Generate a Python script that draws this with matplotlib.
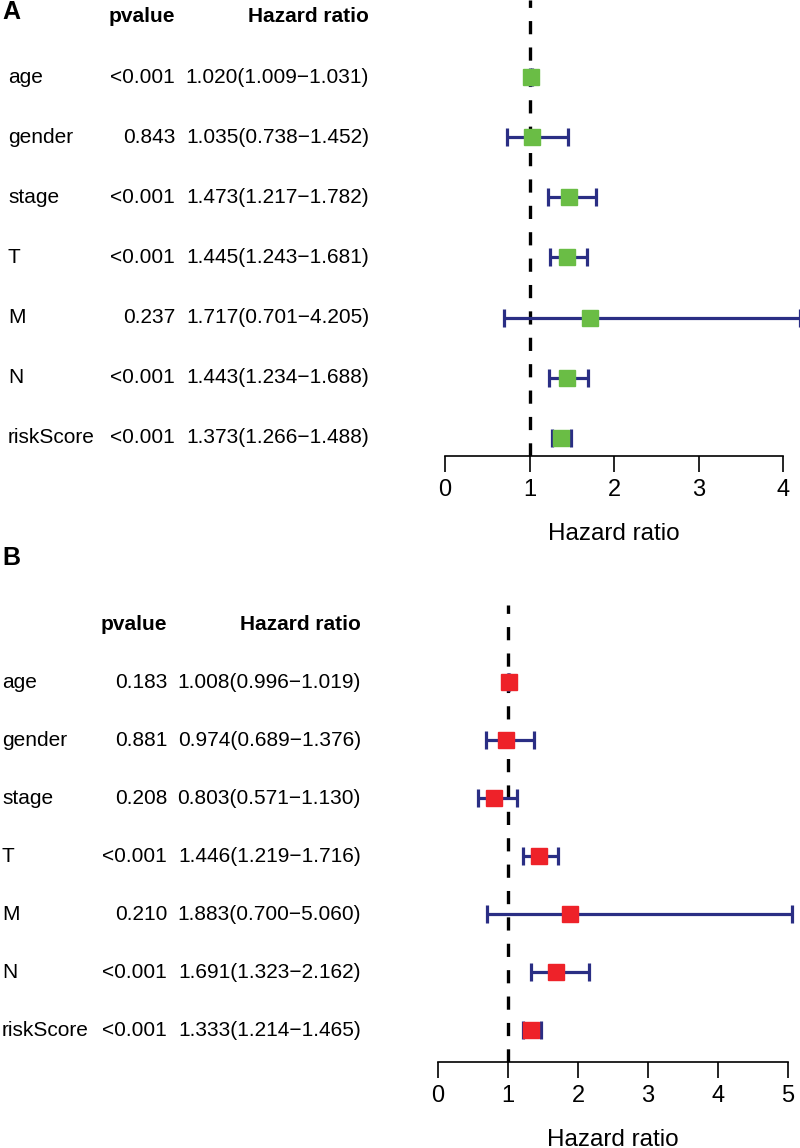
import matplotlib
matplotlib.use("Agg")
import matplotlib.pyplot as plt
import matplotlib.transforms as mtransforms
import numpy as np

plt.rcParams['font.family'] = ['Liberation Sans', 'DejaVu Sans']
plt.rcParams['lines.scale_dashes'] = False

# data
labels = ['age', 'gender', 'stage', 'T', 'M', 'N', 'riskScore']

pval_a = ['<0.001', '0.843', '<0.001', '<0.001', '0.237', '<0.001', '<0.001']
hr_a = [1.020, 1.035, 1.473, 1.445, 1.717, 1.443, 1.373]
low_a = [1.009, 0.738, 1.217, 1.243, 0.701, 1.234, 1.266]
high_a = [1.031, 1.452, 1.782, 1.681, 4.205, 1.688, 1.488]

pval_b = ['0.183', '0.881', '0.208', '<0.001', '0.210', '<0.001', '<0.001']
hr_b = [1.008, 0.974, 0.803, 1.446, 1.883, 1.691, 1.333]
low_b = [0.996, 0.689, 0.571, 1.219, 0.700, 1.323, 1.214]
high_b = [1.019, 1.376, 1.130, 1.716, 5.060, 2.162, 1.465]

ticks_a = [0, 1, 2, 3, 4]
ticks_b = [0, 1, 2, 3, 4, 5]

W, H = 800, 1148
fig = plt.figure(figsize=(W / 100, H / 100), dpi=100)

NAVY = '#2A2E84'


def forest(box, ylim, letter, letter_y, labels, pvals, hr, low, high, ticks,
           box_color, x_lab, x_p, x_hr):
    left, top, right, bottom = box
    ax = fig.add_axes([left / W, 1 - bottom / H, (right - left) / W, (bottom - top) / H])
    y = np.arange(len(labels))

    ax.axvline(1, color='black', lw=2.4, dashes=(9.5, 9.5), zorder=1)
    hr = np.array(hr)
    err = [hr - np.array(low), np.array(high) - hr]
    ax.errorbar(hr, y, xerr=err, fmt='none', ecolor=NAVY, elinewidth=2.3,
                capsize=6.5, capthick=2.3, clip_on=False, zorder=2)
    ax.plot(hr, y, 's', color=box_color, ms=11, mec=box_color, zorder=3, clip_on=False)

    ax.set_xlim(ticks[0], ticks[-1])
    ax.set_ylim(ylim)
    ax.set_xticks(ticks)
    ax.set_yticks([])
    for s in ['top', 'right', 'left']:
        ax.spines[s].set_visible(False)
    ax.spines['bottom'].set_linewidth(1.2)
    ax.tick_params(axis='x', length=11.5, width=1.2, labelsize=17, pad=5)
    ax.set_xlabel('Hazard ratio', fontsize=17.5, labelpad=16)

    # table on the left
    tr = mtransforms.blended_transform_factory(fig.transFigure, ax.transData)
    fig.text(x_p / W, -1, 'pvalue', transform=tr, ha='right', va='center',
             fontsize=15, fontweight='bold')
    fig.text(x_hr / W, -1, 'Hazard ratio', transform=tr, ha='right', va='center',
             fontsize=15, fontweight='bold')
    for i in range(len(labels)):
        fig.text(x_lab / W, i, labels[i], transform=tr, ha='left', va='center', fontsize=15)
        fig.text(x_p / W, i, pvals[i], transform=tr, ha='right', va='center', fontsize=15)
        txt = '%.3f(%.3f\u2212%.3f)' % (hr[i], low[i], high[i])
        fig.text(x_hr / W, i, txt, transform=tr, ha='right', va='center', fontsize=15)

    fig.text(2 / W, 1 - letter_y / H, letter, ha='left', va='center',
             fontsize=18, fontweight='bold')
    return ax


# panel A (univariate)
forest((445, 0, 783, 456), (6.30, -1.28), 'A', 12, labels, pval_a, hr_a, low_a, high_a,
       ticks_a, '#6ABD45', 8, 175, 369)

# panel B (multivariate)
forest((438, 605, 788, 1062), (6.55, -1.33), 'B', 558, labels, pval_b, hr_b, low_b, high_b,
       ticks_b, '#EE2229', 2, 167, 361)

fig.savefig('out.png', dpi=100)
